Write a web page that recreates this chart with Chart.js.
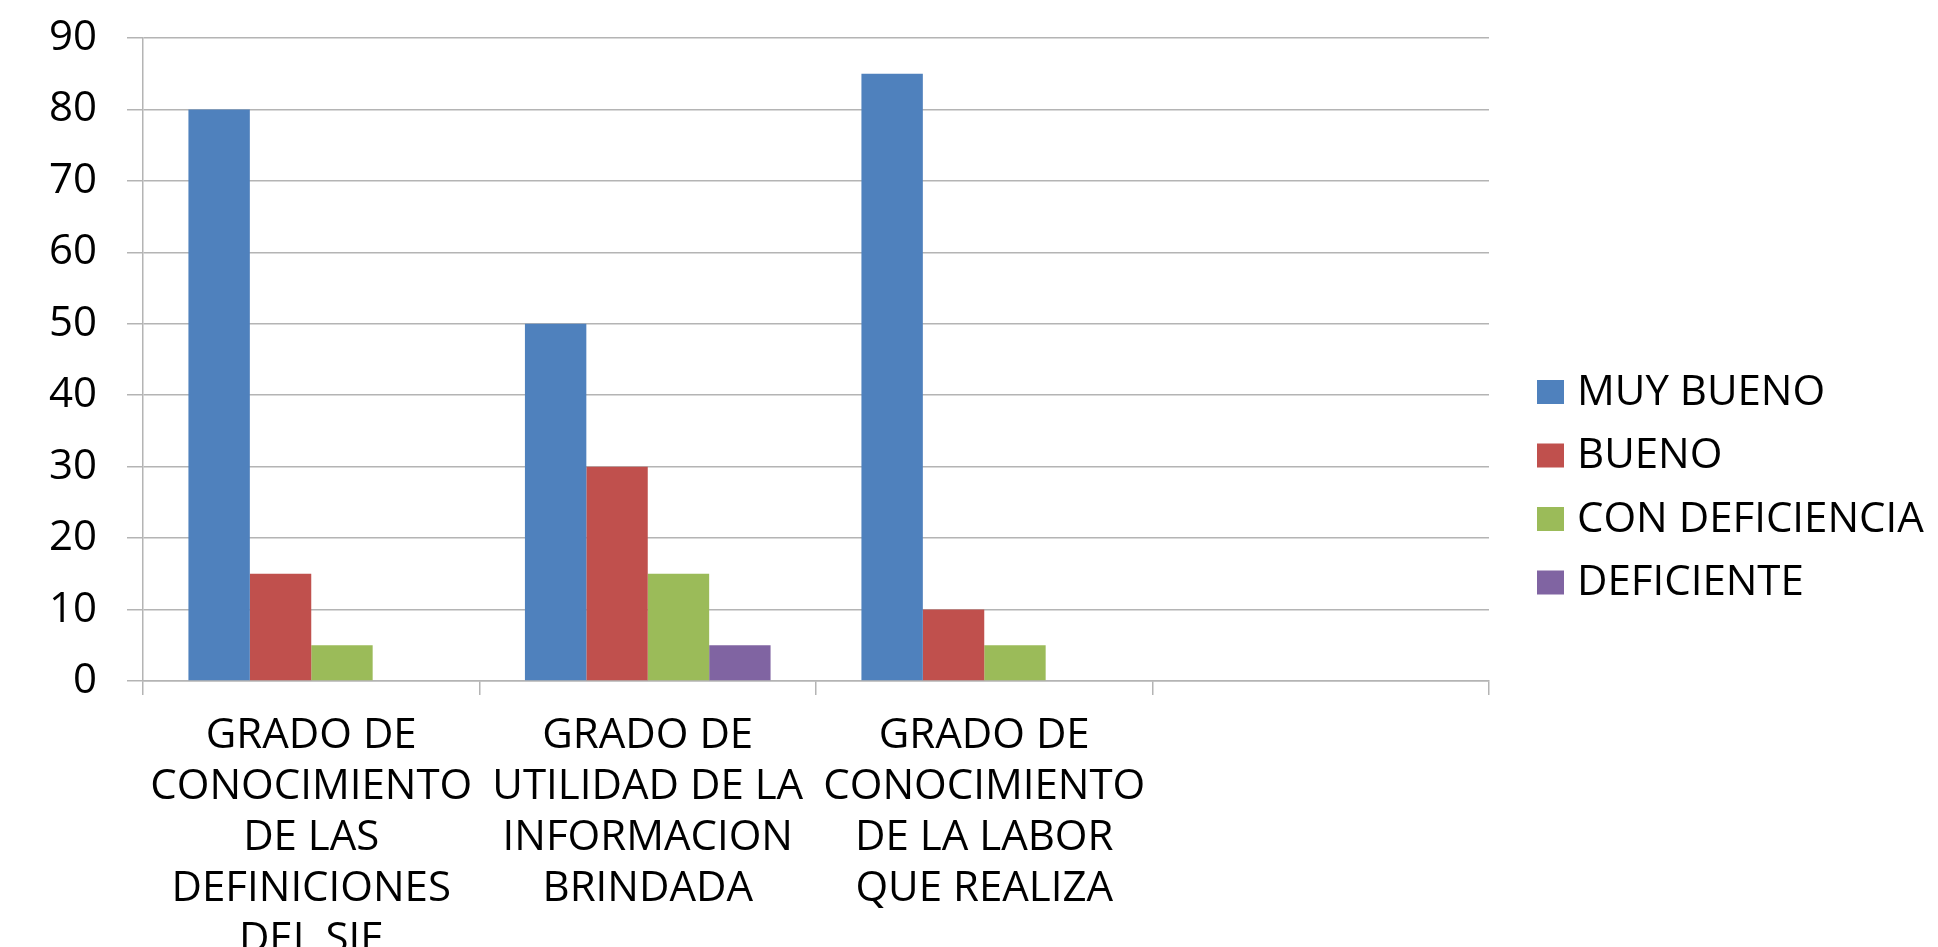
<!DOCTYPE html>
<html>
<head>
<meta charset="utf-8">
<script src="https://cdn.jsdelivr.net/npm/chart.js@4/dist/chart.umd.min.js"></script>
<style>
  html, body { margin: 0; padding: 0; background: #ffffff; }
  #wrap { width: 1938px; height: 947px; }
</style>
</head>
<body>
<div id="wrap"><canvas id="c" width="1938" height="947"></canvas></div>
<script>
const categories = [
  ["GRADO DE", "CONOCIMIENTO", "DE LAS", "DEFINICIONES", "DEL SIE"],
  ["GRADO DE", "UTILIDAD DE LA", "INFORMACION", "BRINDADA"],
  ["GRADO DE", "CONOCIMIENTO", "DE LA LABOR", "QUE REALIZA"],
  ""
];
const seriesNames = ["MUY BUENO", "BUENO", "CON DEFICIENCIA", "DEFICIENTE"];
const muyBueno       = [80, 50, 85, null];
const bueno          = [15, 30, 10, null];
const conDeficiencia = [5, 15, 5, null];
const deficiente     = [0, 5, 0, null];
const seriesColors = ["#4F81BD", "#C0504D", "#9BBB59", "#8064A2"];
const yMin = 0, yMax = 90, yStep = 10;

const seriesValues = [muyBueno, bueno, conDeficiencia, deficiente];
const gridColor = "#b4b4b4";

const legendPlugin = {
  id: "sideLegend",
  afterDraw(chart) {
    const ctx = chart.ctx;
    const area = chart.chartArea;
    const x0 = area.right + 48;
    const yStart = 392, yGap = 63.5;
    ctx.save();
    ctx.font = "42px 'Open Sans'";
    ctx.textBaseline = "middle";
    ctx.textAlign = "left";
    chart.data.datasets.forEach((ds, i) => {
      const cy = yStart + i * yGap;
      ctx.fillStyle = ds.backgroundColor;
      ctx.fillRect(x0, cy - 12, 27, 24);
      ctx.fillStyle = "#000000";
      ctx.fillText(ds.label, x0 + 40, cy + 1);
    });
    ctx.restore();
  }
};

new Chart(document.getElementById("c"), {
  type: "bar",
  data: {
    labels: categories,
    datasets: seriesNames.map((name, i) => ({
      label: name,
      data: seriesValues[i],
      backgroundColor: seriesColors[i],
      borderWidth: 0,
      categoryPercentage: 0.73,
      barPercentage: 1.0
    }))
  },
  options: {
    responsive: false,
    animation: false,
    layout: { padding: { top: 38, right: 449, left: 0, bottom: 0 } },
    plugins: {
      legend: { display: false },
      tooltip: { enabled: false }
    },
    scales: {
      x: {
        offset: true,
        afterFit(axis) { axis.height = 266; },
        grid: {
          offset: true,
          drawOnChartArea: false,
          drawTicks: true,
          tickLength: 14,
          color: gridColor,
          lineWidth: 1.5
        },
        border: { display: true, color: gridColor, width: 1.5 },
        ticks: {
          autoSkip: false,
          maxRotation: 0,
          minRotation: 0,
          padding: 16,
          color: "#000000",
          font: { family: "'Open Sans'", size: 42, lineHeight: 51 / 42 }
        }
      },
      y: {
        min: yMin,
        max: yMax,
        afterFit(axis) {
          axis.width = 143;
          axis.paddingTop = 0;
          axis.paddingBottom = 0;
        },
        grid: {
          color: gridColor,
          lineWidth: 1.5,
          drawTicks: true,
          tickLength: 16
        },
        border: { display: true, color: gridColor, width: 1.5 },
        ticks: {
          stepSize: yStep,
          padding: 30,
          color: "#000000",
          font: { family: "'Open Sans'", size: 42 }
        }
      }
    }
  },
  plugins: [legendPlugin]
});
</script>
</body>
</html>
